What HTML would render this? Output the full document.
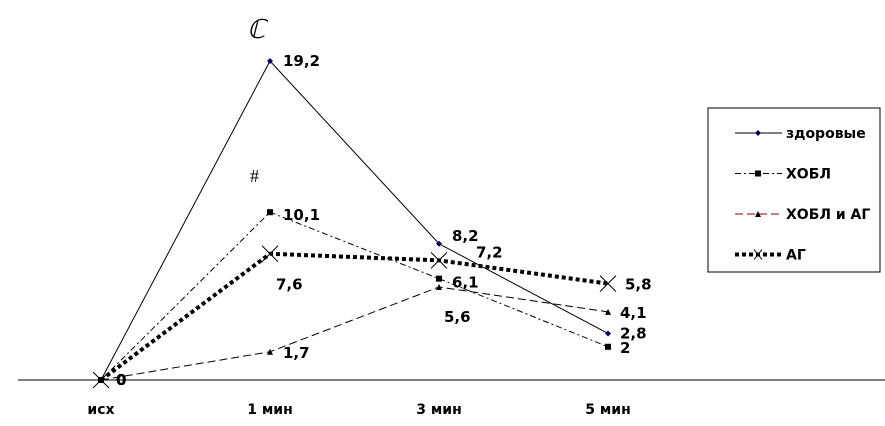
<!DOCTYPE html>
<html><head><meta charset="utf-8"><style>
body{margin:0;background:#fff}
svg{display:block;font-family:"DejaVu Sans","Liberation Sans",sans-serif}
</style></head><body>
<svg id="chart" width="885" height="426" viewBox="0 0 885 426" xmlns="http://www.w3.org/2000/svg">
<line x1="18" y1="380" x2="885" y2="380" stroke="#000" stroke-width="1"/>
<text x="247" y="38" font-family="Liberation Serif,serif" font-style="italic" font-size="26">ℂ</text>
<text x="250" y="182" font-family="Liberation Serif,serif" font-size="18">#</text>
<g id="series"></g><g id="xlabels"></g>
<g>
<rect x="708" y="108" width="172" height="164" fill="#fff" stroke="#000" stroke-width="1"/>
<g id="legend"></g>
</g>
</svg>
<script>
const categories=["исх","1 мин","3 мин","5 мин"];
const zdorovye=[0,19.2,8.2,2.8];
const hobl=[0,10.1,6.1,2];
const hoblAg=[0,1.7,5.6,4.1];
const ag=[0,7.6,7.2,5.8];
const seriesNames=["здоровые","ХОБЛ","ХОБЛ и АГ","АГ"];
const NS="http://www.w3.org/2000/svg";
const xPos=i=>101+i*169;
const yPos=v=>380-v*(319/19.2);
function mk(tag,attrs,parent){const e=document.createElementNS(NS,tag);for(const k in attrs)e.setAttribute(k,attrs[k]);parent.appendChild(e);return e;}
const g=document.getElementById('series');
const styles=[
 {data:zdorovye,stroke:"#000",w:1,dash:"",marker:"diamond",lbl:[[15,5],[13,5],[13,-3],[12,5]]},
 {data:hobl,stroke:"#000",w:1,dash:"6 3 2 3",marker:"square",lbl:[[15,5],[13,8],[13,9],[12,6]]},
 {data:hoblAg,stroke:"#000",w:1,dash:"8 4",marker:"triangle",lbl:[[15,5],[13,6],[5,35],[12,6]]},
 {data:ag,stroke:"#000",w:4,dash:"4 3",marker:"x",lbl:[[15,5],[6,36],[37,-3],[17,6]]}
];
styles.forEach((s,si)=>{
 const pts=s.data.map((v,i)=>xPos(i)+","+yPos(v)).join(" ");
 const pl=mk('polyline',{points:pts,fill:"none",stroke:s.stroke,"stroke-width":s.w,"stroke-dasharray":s.dash},g);
 
 
 s.data.forEach((v,i)=>{
  const x=xPos(i),y=yPos(v);let m;
  if(s.marker==="diamond")m=mk('polygon',{points:`${x},${y-3} ${x+3},${y} ${x},${y+3} ${x-3},${y}`,fill:"#000060"},g);
  else if(s.marker==="square")m=mk('rect',{x:x-3,y:y-3,width:6,height:6,fill:"#000"},g);
  else if(s.marker==="triangle")m=mk('polygon',{points:`${x},${y-3} ${x+3},${y+3} ${x-3},${y+3}`,fill:"#000"},g);
  else m=mk('path',{d:`M${x-8},${y-8}L${x+8},${y+8}M${x+8},${y-8}L${x-8},${y+8}`,stroke:"#000","stroke-width":1},g);
  
  
  const t=mk('text',{x:x+s.lbl[i][0],y:y+s.lbl[i][1],"font-size":"15","font-weight":"bold"},g);
  t.textContent=String(v).replace('.',',');
  
  
 });
});
const xl=document.getElementById('xlabels');
categories.forEach((c,i)=>{
 const t=mk('text',{x:xPos(i),y:414,"text-anchor":"middle","font-size":"14","font-weight":"bold"},xl);
 t.textContent=c;
 
 
});
const lg=document.getElementById('legend');
seriesNames.forEach((n,i)=>{
 const y=133+i*40.5,s=styles[i];
 const l=mk('line',{x1:735,y1:y,x2:782,y2:y,stroke:i===2?"#800000":"#000","stroke-width":s.w,"stroke-dasharray":s.dash},lg);
 
 
 const x=758;let m;
 if(s.marker==="diamond")m=mk('polygon',{points:`${x},${y-3} ${x+3},${y} ${x},${y+3} ${x-3},${y}`,fill:"#000060"},lg);
 else if(s.marker==="square")m=mk('rect',{x:x-3,y:y-3,width:6,height:6,fill:"#000"},lg);
 else if(s.marker==="triangle")m=mk('polygon',{points:`${x},${y-3} ${x+3},${y+3} ${x-3},${y+3}`,fill:"#000"},lg);
 else m=mk('path',{d:`M${x-4},${y-5}L${x+4},${y+5}M${x+4},${y-5}L${x-4},${y+5}`,stroke:"#000","stroke-width":1},lg);
 
 
 const t=mk('text',{x:786,y:y+5,"font-size":"14","font-weight":"bold"},lg);
 t.textContent=n;
 
 
});
</script>
</body></html>
